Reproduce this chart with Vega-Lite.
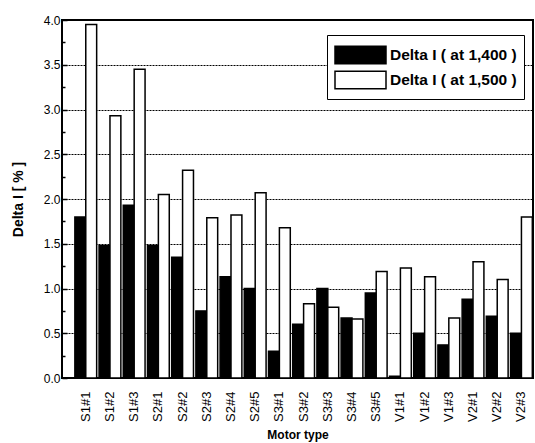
{
  "$schema": "https://vega.github.io/schema/vega-lite/v6.json",
  "width": 471,
  "height": 358,
  "autosize": {"type": "none"},
  "padding": {"left": 62, "top": 20, "right": 2, "bottom": 65},
  "config": {
    "font": "Liberation Sans",
    "view": {"stroke": "black", "strokeWidth": 2}
  },
  "data": {
    "values": [
      {"motor": "S1#1", "series": "Delta I ( at 1,400 )", "value": 1.80},
      {"motor": "S1#1", "series": "Delta I ( at 1,500 )", "value": 3.95},
      {"motor": "S1#2", "series": "Delta I ( at 1,400 )", "value": 1.48},
      {"motor": "S1#2", "series": "Delta I ( at 1,500 )", "value": 2.93},
      {"motor": "S1#3", "series": "Delta I ( at 1,400 )", "value": 1.93},
      {"motor": "S1#3", "series": "Delta I ( at 1,500 )", "value": 3.45},
      {"motor": "S2#1", "series": "Delta I ( at 1,400 )", "value": 1.48},
      {"motor": "S2#1", "series": "Delta I ( at 1,500 )", "value": 2.05},
      {"motor": "S2#2", "series": "Delta I ( at 1,400 )", "value": 1.35},
      {"motor": "S2#2", "series": "Delta I ( at 1,500 )", "value": 2.32},
      {"motor": "S2#3", "series": "Delta I ( at 1,400 )", "value": 0.75},
      {"motor": "S2#3", "series": "Delta I ( at 1,500 )", "value": 1.79},
      {"motor": "S2#4", "series": "Delta I ( at 1,400 )", "value": 1.13},
      {"motor": "S2#4", "series": "Delta I ( at 1,500 )", "value": 1.82},
      {"motor": "S2#5", "series": "Delta I ( at 1,400 )", "value": 1.00},
      {"motor": "S2#5", "series": "Delta I ( at 1,500 )", "value": 2.07},
      {"motor": "S3#1", "series": "Delta I ( at 1,400 )", "value": 0.30},
      {"motor": "S3#1", "series": "Delta I ( at 1,500 )", "value": 1.68},
      {"motor": "S3#2", "series": "Delta I ( at 1,400 )", "value": 0.60},
      {"motor": "S3#2", "series": "Delta I ( at 1,500 )", "value": 0.83},
      {"motor": "S3#3", "series": "Delta I ( at 1,400 )", "value": 1.00},
      {"motor": "S3#3", "series": "Delta I ( at 1,500 )", "value": 0.79},
      {"motor": "S3#4", "series": "Delta I ( at 1,400 )", "value": 0.67},
      {"motor": "S3#4", "series": "Delta I ( at 1,500 )", "value": 0.66},
      {"motor": "S3#5", "series": "Delta I ( at 1,400 )", "value": 0.95},
      {"motor": "S3#5", "series": "Delta I ( at 1,500 )", "value": 1.19},
      {"motor": "V1#1", "series": "Delta I ( at 1,400 )", "value": 0.02},
      {"motor": "V1#1", "series": "Delta I ( at 1,500 )", "value": 1.23},
      {"motor": "V1#2", "series": "Delta I ( at 1,400 )", "value": 0.50},
      {"motor": "V1#2", "series": "Delta I ( at 1,500 )", "value": 1.13},
      {"motor": "V1#3", "series": "Delta I ( at 1,400 )", "value": 0.37},
      {"motor": "V1#3", "series": "Delta I ( at 1,500 )", "value": 0.67},
      {"motor": "V2#1", "series": "Delta I ( at 1,400 )", "value": 0.88},
      {"motor": "V2#1", "series": "Delta I ( at 1,500 )", "value": 1.30},
      {"motor": "V2#2", "series": "Delta I ( at 1,400 )", "value": 0.69},
      {"motor": "V2#2", "series": "Delta I ( at 1,500 )", "value": 1.10},
      {"motor": "V2#3", "series": "Delta I ( at 1,400 )", "value": 0.50},
      {"motor": "V2#3", "series": "Delta I ( at 1,500 )", "value": 1.80}
    ]
  },
  "mark": {"type": "bar", "stroke": "black", "strokeWidth": 1.5},
  "encoding": {
    "x": {
      "field": "motor",
      "type": "nominal",
      "sort": null,
      "scale": {"paddingInner": 0.1, "paddingOuter": 0.28, "align": 0.95},
      "axis": {
        "title": "Motor type",
        "titleFontSize": 12,
        "titleFontWeight": "bold",
        "titleColor": "black",
        "titlePadding": 8,
        "labelAngle": -90,
        "labelFontSize": 13,
        "labelColor": "black",
        "labelPadding": 13,
        "ticks": false,
        "domain": false,
        "grid": false
      }
    },
    "xOffset": {"field": "series", "type": "nominal", "scale": {"paddingInner": 0, "paddingOuter": 0}},
    "y": {
      "field": "value",
      "type": "quantitative",
      "scale": {"domain": [0, 4], "nice": false},
      "axis": {
        "title": "Delta I [ % ]",
        "titleFontSize": 14,
        "titleFontWeight": "bold",
        "titleColor": "black",
        "titlePadding": 18,
        "values": [0, 0.25, 0.5, 0.75, 1, 1.25, 1.5, 1.75, 2, 2.25, 2.5, 2.75, 3, 3.25, 3.5, 3.75, 4],
        "labelExpr": "datum.value % 0.5 === 0 ? format(datum.value, '.1f') : ''",
        "labelFontSize": 12,
        "labelColor": "black",
        "labelPadding": 7,
        "tickColor": "black",
        "tickWidth": 1.5,
        "tickSize": {"condition": {"test": "datum.value % 0.5 === 0", "value": -5}, "value": -3},
        "domain": false,
        "grid": true,
        "gridColor": "black",
        "gridDash": [2, 1],
        "gridWidth": 1,
        "gridOpacity": {"condition": {"test": "datum.value % 0.5 === 0 && datum.value > 0 && datum.value < 4", "value": 1}, "value": 0}
      }
    },
    "fill": {
      "field": "series",
      "type": "nominal",
      "scale": {"range": ["black", "white"]},
      "legend": {
        "title": null,
        "orient": "none",
        "legendX": 265,
        "legendY": 15,
        "strokeColor": "black",
        "fillColor": "white",
        "padding": 7,
        "labelFontSize": 15.5,
        "labelFontWeight": "bold",
        "labelColor": "black",
        "symbolType": "M-1,-0.72H3.25V0.72H-1Z",
        "symbolSize": 576,
        "symbolStrokeColor": "black",
        "symbolStrokeWidth": 1.5,
        "rowPadding": 0,
        "labelOffset": 30
      }
    }
  }
}
